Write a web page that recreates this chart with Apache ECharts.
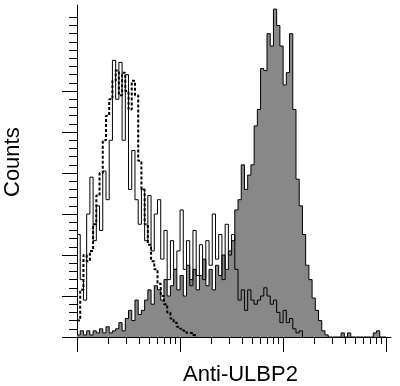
<!DOCTYPE html>
<html>
<head>
<meta charset="utf-8">
<script src="https://cdn.jsdelivr.net/npm/echarts@6/dist/echarts.min.js"></script>
<style>
html,body{margin:0;padding:0;background:#fff;}
#chart{width:400px;height:386px;}
</style>
</head>
<body>
<div id="chart"></div>
<script>
// Histogram channels: 32 bins per decade, 3 decades
const binsPerDecade = 32;
const decades = [0, 1, 2, 3];
const minorMultipliers = [2, 3, 4, 5, 6, 7, 8, 9];
const yMajorTicks = [0, 20, 40, 60, 80, 100, 120];
const yMinorStep = 4;
const yMinorTop = 156;

// Gray filled histogram (anti-ULBP2 stained)
const ulbp2Counts = [1,3,1,3,1,3,2,4,2,5, 2,3,4,7,3,9,13,8,18,11,
  13,18,23,16,25,23,18,28,20,25, 33,23,30,20,35,28,33,23,30,38,
  25,33,23,35,30,40,33,42,47,62, 67,84,72,79,84,103,111,131,130,148,
  142,160,152,142,123,129,148,111,77,64, 50,35,28,19,13,8,3,1,0,0,
  0,0,2,0,2,0,0,0,0,0, 0,0,2,3,0,0];
// Solid thin line histogram
const sampleCounts = [50,28,18,60,78,47,64,52,81,67, 96,135,116,134,96,128,72,91,67,55,
  72,47,69,42,60,67,38,52,28,47, 33,42,62,33,47,25,52,30,45,28,
  47,35,60,38,50,28,55,40,50,33, 18,23,13,23,18,16,18,20,24,20,
  16,18,12,7,13,7,9,4,2,3];
// Dashed line histogram (control)
const controlCounts = [8,23,40,37,42,55,69,80,96,108, 116,125,130,118,129,120,111,125,118,86,
  72,55,45,37,33,26,20,16,12,9, 7,5,4,3,2,2,1];

function toSteps(arr){
  const d = arr.map((v,i)=>[i, v]);
  d.push([arr.length, 0]);
  return d;
}
const xMajor = decades.concat([decades.length]).map(d => d*binsPerDecade);
const xMinor = [];
decades.forEach(d => minorMultipliers.forEach(k => xMinor.push(binsPerDecade*(d + Math.log10(k)))));
const yMinor = [];
for (let v = 0; v <= yMinorTop; v += yMinorStep) yMinor.push(v);

const chart = echarts.init(document.getElementById('chart'), null, {renderer:'canvas'});
const axisLine = {show:true, lineStyle:{color:'#000', width:1}};
const baseX = {type:'value', min:0, max:97.5, splitLine:{show:false}, axisLabel:{show:false}, position:'bottom'};
const baseY = {type:'value', min:0, max:162, splitLine:{show:false}, axisLabel:{show:false}, position:'left'};
chart.setOption({
  animation:false,
  backgroundColor:'#fff',
  grid:{left:77, right:9, top:5, bottom:49, containLabel:false, outerBoundsMode:'none'},
  xAxis:[
    Object.assign({}, baseX, {axisLine:axisLine, axisTick:{show:true, length:7, lineStyle:{color:'#000',width:1}, customValues:xMinor}}),
    Object.assign({}, baseX, {axisLine:{show:false}, axisTick:{show:true, length:15, lineStyle:{color:'#000',width:1}, customValues:xMajor}})
  ],
  yAxis:[
    Object.assign({}, baseY, {axisLine:axisLine, axisTick:{show:true, length:8, lineStyle:{color:'#000',width:1}, customValues:yMinor}}),
    Object.assign({}, baseY, {axisLine:{show:false}, axisTick:{show:true, length:15, lineStyle:{color:'#000',width:1}, customValues:yMajorTicks}})
  ],
  graphic:[
    {type:'text', left:183, top:364, style:{text:'Anti-ULBP2', font:'22px "Liberation Sans", Arial, sans-serif', fill:'#000'}},
    {type:'text', x:2, y:197, rotation:Math.PI/2, style:{text:'Counts', font:'22px "Liberation Sans", Arial, sans-serif', fill:'#000'}}
  ],
  series:[
    {type:'line', step:'end', data:toSteps(ulbp2Counts), symbol:'none', z:2,
     lineStyle:{color:'#000', width:1}, areaStyle:{color:'#888888', opacity:1}},
    {type:'line', step:'end', data:toSteps(sampleCounts), symbol:'none', z:3,
     lineStyle:{color:'#000', width:1}},
    {type:'line', step:'end', data:toSteps(controlCounts), symbol:'none', z:4,
     lineStyle:{color:'#000', width:2, type:[3,2]}}
  ]
});
</script>
</body>
</html>
